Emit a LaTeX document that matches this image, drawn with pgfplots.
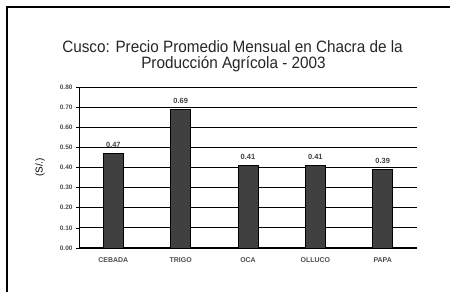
\documentclass[border=0pt]{standalone}
\usepackage{pgfplots}
\pgfplotsset{compat=1.18}
\usepackage{fontspec}
\setmainfont{Liberation Sans}
\begin{document}
\begin{tikzpicture}[x=1bp,y=1bp]
\useasboundingbox (0,0) rectangle (450,291);
\draw[line width=2bp,black] (7,-2) -- (7,284) -- (452,284);
\node[anchor=base,font=\fontsize{16.5}{16.5}\selectfont,text=black!85,xscale=0.93] at (232.5,238.3) {Cusco: Precio Promedio Mensual en Chacra de la};
\node[anchor=base,font=\fontsize{16.5}{16.5}\selectfont,text=black!85,xscale=0.93] at (233.5,222.7) {Producción Agrícola - 2003};
\begin{axis}[
  at={(79bp,43bp)}, anchor=south west,
  width=338bp, height=161bp, scale only axis,
  xmin=-0.51, xmax=4.51, ymin=0, ymax=0.8,
  axis x line*=bottom, axis y line*=left,
  x axis line style={line width=1.6pt},
  y axis line style={line width=0.8pt},
  ytick={0,0.1,...,0.8},
  yticklabel style={font=\fontsize{6.5}{7}\selectfont\bfseries,text=black!70,
    /pgf/number format/fixed,/pgf/number format/fixed zerofill,/pgf/number format/precision=2},
  /pgf/number format/assume math mode=true,
  ymajorgrids, grid style={black,line width=0.9pt},
  ytick style={black,line width=0.6pt},
  tick align=outside, major tick length=3bp,
  xtick=data, xticklabels={CEBADA,TRIGO,OCA,OLLUCO,PAPA},
  xticklabel style={font=\fontsize{7}{7}\selectfont\bfseries,text=black!70,yshift=-3bp},
  xtick style={draw=none},
  ylabel={(S/.)}, ylabel style={font=\fontsize{8}{8}\selectfont\bfseries,text=black!75},
  every axis y label/.style={at={(axis description cs:-0.115,0.5)},rotate=90,anchor=center},
  ybar, bar width=20bp,
  nodes near coords,
  nodes near coords style={font=\fontsize{7.5}{8}\selectfont\bfseries,text=black!75,anchor=south,yshift=2bp,
    /pgf/number format/fixed,/pgf/number format/fixed zerofill,/pgf/number format/precision=2},
  clip=false,
]
\addplot[fill=black!75,draw=black,line width=0.6pt] coordinates {(0,0.47) (1,0.69) (2,0.41) (3,0.41) (4,0.39)};
\end{axis}
\end{tikzpicture}
\end{document}
